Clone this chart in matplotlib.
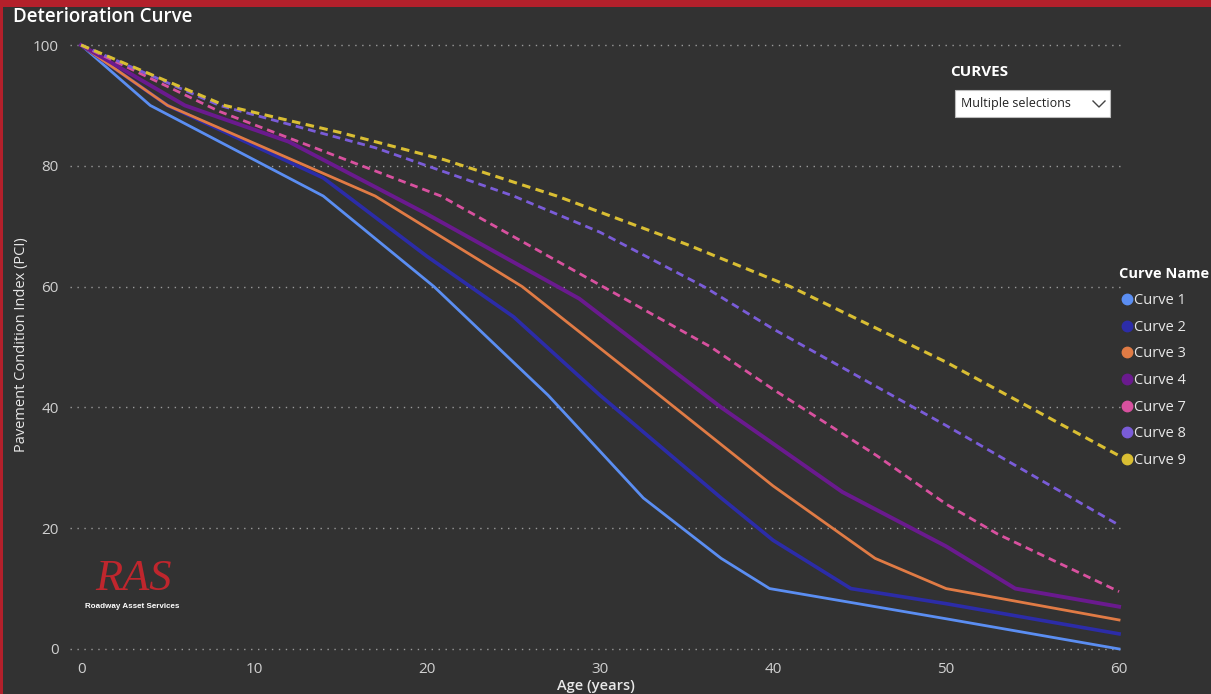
import matplotlib
matplotlib.use('Agg')
from matplotlib import pyplot as plt
from matplotlib.patches import Rectangle
from matplotlib.lines import Line2D

plt.rcParams['font.family'] = ['Open Sans', 'DejaVu Sans']

# Age (years) / PCI pairs for each deterioration curve
curve_names = ['Curve 1', 'Curve 2', 'Curve 3', 'Curve 4', 'Curve 7', 'Curve 8', 'Curve 9']
curve1_age = [0, 4, 14, 20.4, 27, 32.5, 37, 39.8, 50, 60]
curve1_pci = [100, 90, 75, 60, 42, 25, 15, 10, 5, 0]
curve2_age = [0, 5, 14, 20, 25, 30, 37, 40, 44.5, 50, 60]
curve2_pci = [100, 90, 78, 65, 55, 42, 25, 18, 10, 7.5, 2.5]
curve3_age = [0, 5, 17, 25.5, 33, 40, 45.9, 50, 60]
curve3_pci = [100, 90, 75, 60, 43, 27, 15, 10, 4.8]
curve4_age = [0, 6, 12, 20, 28.8, 37, 44, 50, 54, 60]
curve4_pci = [100, 90, 84, 72, 58, 40, 26, 17, 10, 7]
curve7_age = [0, 8, 20.8, 36.4, 40, 46, 50, 53, 60]
curve7_pci = [100, 89, 75, 50, 43, 32, 24, 19, 9.5]
curve8_age = [0, 8, 17, 25, 30, 36, 40, 50, 60]
curve8_pci = [100, 90, 83, 75, 69, 60, 53, 37, 20.5]
curve9_age = [0, 8.3, 15, 21, 27.5, 35, 41, 50, 60]
curve9_pci = [100, 90, 85.5, 81, 75, 67, 60, 47.5, 32]

ages = [curve1_age, curve2_age, curve3_age, curve4_age, curve7_age, curve8_age, curve9_age]
pcis = [curve1_pci, curve2_pci, curve3_pci, curve4_pci, curve7_pci, curve8_pci, curve9_pci]
colors = ['#5B8EF2', '#2C2CA8', '#E07B45', '#6A1A8E', '#D8519F', '#7A5CD8', '#D9BE33']
styles = ['-', '-', '-', '-', '--', '--', '--']
widths = [2.0, 2.6, 2.0, 2.8, 2.0, 2.0, 2.2]

x_ticks = [0, 10, 20, 30, 40, 50, 60]
y_ticks = [0, 20, 40, 60, 80, 100]

bg = '#323232'
W, H = 1211, 694
fig = plt.figure(figsize=(W / 100, H / 100), dpi=100, facecolor=bg)

# red frame on top and left edge
fig.add_artist(Rectangle((0, 1 - 7 / H), 1, 7 / H, transform=fig.transFigure,
                         facecolor='#B3202B', edgecolor='none', zorder=10))
fig.add_artist(Rectangle((0, 0), 3 / W, 1, transform=fig.transFigure,
                         facecolor='#B3202B', edgecolor='none', zorder=10))

ax = fig.add_axes([70 / W, 0.0562, 0.8687, 0.8876])
ax.set_facecolor(bg)
for name, a, p, c, ls, lw in zip(curve_names, ages, pcis, colors, styles, widths):
    if ls == '--':
        ax.plot(a, p, color=c, lw=lw, ls=(0, (2.8, 1.8)), label=name, solid_joinstyle='round')
    else:
        ax.plot(a, p, color=c, lw=lw, ls='-', label=name, solid_joinstyle='round')

ax.set_xlim(-0.64, 60.17)
ax.set_ylim(-1, 101)
ax.set_xticks(x_ticks)
ax.set_yticks(y_ticks)
ax.grid(axis='y', color='#9A9A9A', linestyle=(0, (1, 4)), linewidth=1.0)
ax.set_axisbelow(True)
for s in ax.spines.values():
    s.set_visible(False)
ax.tick_params(length=0, colors='#D0D0D0', labelsize=11)
ax.tick_params(axis='y', pad=8)
ax.tick_params(axis='x', pad=5)

# axis titles
fig.text(596 / W, 1 - 686 / H, 'Age (years)', color='#E8E8E8', fontsize=10.5,
         fontweight='semibold', ha='center', va='center')
fig.text(22 / W, 1 - 345 / H, 'Pavement Condition Index (PCI)', color='#E8E8E8',
         fontsize=10.5, rotation=90, ha='center', va='center')

# legend
handles = [Line2D([], [], marker='o', ls='none', color=c, markersize=7.5) for c in colors]
leg = fig.legend(handles, curve_names, loc='upper left', bbox_to_anchor=(1112 / W, 1 - 260 / H),
                 frameon=False, handletextpad=0.0, labelspacing=0.8, fontsize=10.5,
                 title='Curve Name', alignment='left', handlelength=1.0, borderpad=0)
leg.get_title().set_color('white')
leg.get_title().set_fontweight('bold')
leg.get_title().set_fontsize(10.5)
for t in leg.get_texts():
    t.set_color('#E8E8E8')

# title
fig.text(13 / W, 1 - 17 / H, 'Deterioration Curve', color='white', fontsize=13.5,
         fontweight='semibold', va='center', ha='left')

# slicer
fig.text(950 / W, 1 - 72 / H, 'CURVES', color='white', fontsize=11, fontweight='bold', va='center')
fig.add_artist(Rectangle((955 / W, 1 - 117 / H), 155 / W, 27 / H,
                         transform=fig.transFigure, facecolor='white', edgecolor='#BBBBBB', lw=0.8))
fig.text(961 / W, 1 - 104 / H, 'Multiple selections', color='#222222', fontsize=9, va='center')
fig.add_artist(Line2D([1093 / W, 1099 / W, 1105 / W],
                      [1 - 101 / H, 1 - 107 / H, 1 - 101 / H],
                      transform=fig.transFigure, color='#444444', lw=1.0))

# logo
fig.text(133 / W, 1 - 579 / H, 'RAS', color='#C0262D', fontsize=32, fontstyle='italic',
         family='Liberation Serif', va='center', ha='center')
fig.text(132 / W, 1 - 606 / H, 'Roadway Asset Services', color='white', fontsize=5.8,
         family='Liberation Sans', fontweight='bold', va='center', ha='center')

plt.savefig('out.png', dpi=100, facecolor=bg)
